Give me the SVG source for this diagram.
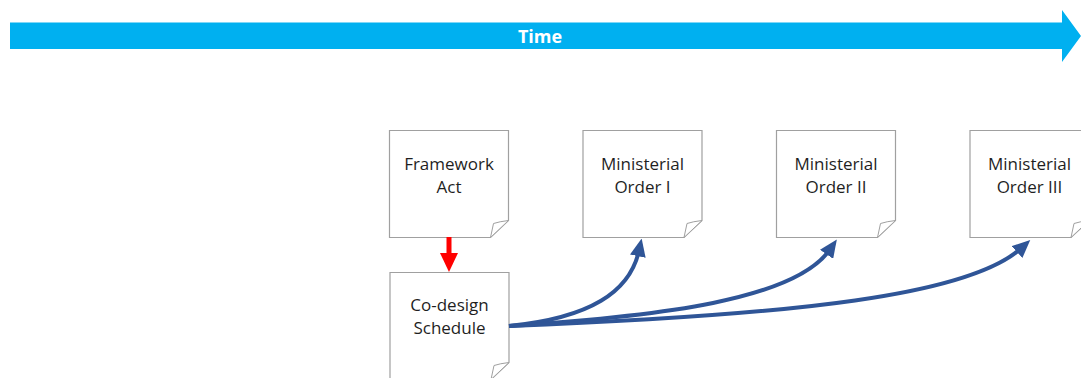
<svg xmlns="http://www.w3.org/2000/svg" width="1081" height="378" viewBox="0 0 1081 378">
<style>
.note{fill:#fff;stroke:#a0a0a0;stroke-width:1.2}
.flap{fill:#fff;stroke:#a0a0a0;stroke-width:1}
.lbl{font-family:"Open Sans","Liberation Sans",sans-serif;font-size:17px;fill:#1f1f1f;text-anchor:middle}
.blue{fill:none;stroke:#2F5597;stroke-width:4}
.red{fill:none;stroke:#FF0000;stroke-width:5}
</style>
<defs>
<marker id="ab" markerUnits="userSpaceOnUse" markerWidth="18" markerHeight="16" refX="6" refY="8" orient="auto" viewBox="0 0 18 16">
<path d="M0,0 L18,8 L0,16 Z" fill="#2F5597"/>
</marker>
<marker id="ar" markerUnits="userSpaceOnUse" markerWidth="19" markerHeight="18" refX="0" refY="9" orient="auto" viewBox="0 0 19 18">
<path d="M0,0 L19,9 L0,18 Z" fill="#FF0000"/>
</marker>
<g id="note">
<path class="note" d="M0,0 H119 V90 L101,107 H0 Z"/>
<path class="flap" d="M119,90 Q110,91 104,93 L101,107 Z"/>
</g>
</defs>

<g id="timeline">
<polygon points="10,22.5 1062,22.5 1062,10 1081,36 1062,62 1062,49 10,49" fill="#00B0F0"/>
<text x="540" y="42.5" font-family="'Open Sans','Liberation Sans',sans-serif" font-size="18" font-weight="bold" fill="#fff" text-anchor="middle">Time</text>
</g>

<g id="framework-act" transform="translate(389.5,130.5)">
<use href="#note"/>
<text class="lbl" x="59.5" y="39">Framework</text>
<text class="lbl" x="59.5" y="62">Act</text>
</g>

<g id="order-1" transform="translate(583,130.5)">
<use href="#note"/>
<text class="lbl" x="59.5" y="39">Ministerial</text>
<text class="lbl" x="59.5" y="62">Order I</text>
</g>

<g id="order-2" transform="translate(776.5,130.5)">
<use href="#note"/>
<text class="lbl" x="59.5" y="39">Ministerial</text>
<text class="lbl" x="59.5" y="62">Order II</text>
</g>

<g id="order-3" transform="translate(970,130.5)">
<use href="#note"/>
<text class="lbl" x="59.5" y="39">Ministerial</text>
<text class="lbl" x="59.5" y="62">Order III</text>
</g>

<g id="codesign-schedule" transform="translate(390,272.5)">
<use href="#note"/>
<text class="lbl" x="59.5" y="38">Co-design</text>
<text class="lbl" x="59.5" y="61">Schedule</text>
</g>

<g id="connectors">
<path class="red" d="M449,237 V253" marker-end="url(#ar)"/>
<path class="blue" d="M509,326 C590,318 630,292 639.1,250.3" marker-end="url(#ab)"/>
<path class="blue" d="M509,326 C660,316 795,300 830,249.4" marker-end="url(#ab)"/>
<path class="blue" d="M509,326 C800,315 970,295 1021.4,248" marker-end="url(#ab)"/>
</g>
</svg>
